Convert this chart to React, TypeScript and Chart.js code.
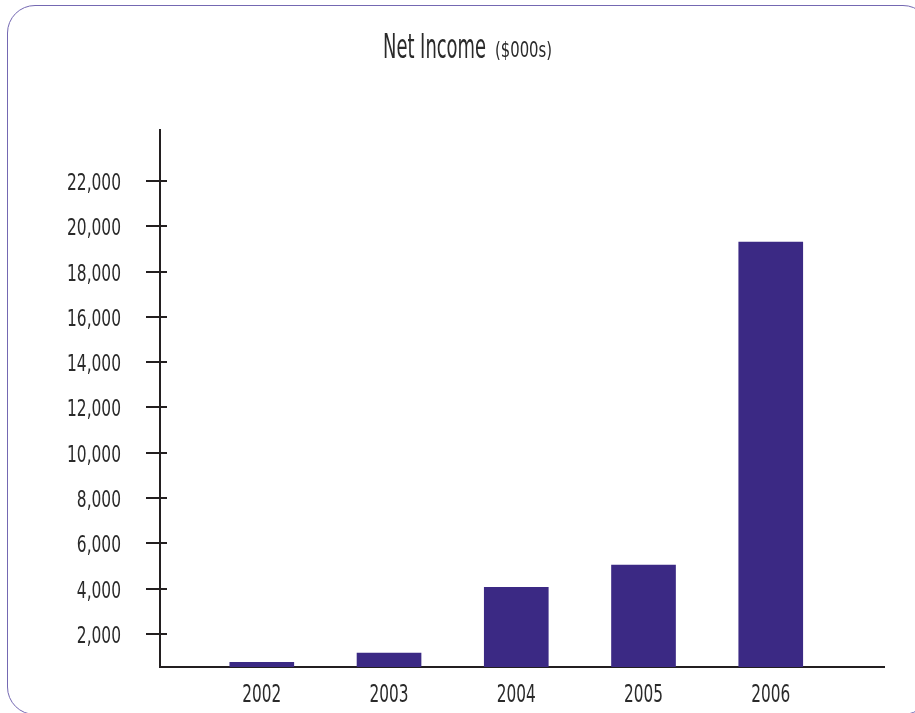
import React, { useEffect, useRef } from "react";
import { Chart, registerables } from "chart.js";

Chart.register(...registerables);

const categories = ["2002", "2003", "2004", "2005", "2006"];
const netIncome = [750, 1150, 4060, 5040, 19300];
const yTickValues = [2000, 4000, 6000, 8000, 10000, 12000, 14000, 16000, 18000, 20000, 22000];
const titleMain = "Net Income";
const titleUnit = "($000s)";

const FONT = '"DejaVu Sans Condensed", "Liberation Sans Narrow", sans-serif';
const INK = "#231f20";
const TEXT = "#2a2a2a";
const BAR = "#3b2984";

function drawScaled(ctx: any, text: string, x: number, y: number, sx: number, align: string) {
  ctx.save();
  ctx.translate(x, y);
  ctx.scale(sx, 1);
  ctx.textAlign = align;
  ctx.fillText(text, 0, 0);
  ctx.restore();
}

export default function App() {
  const ref = useRef<HTMLCanvasElement | null>(null);

  useEffect(() => {
    if (!ref.current) return;

    const crossTicks = {
      id: "crossTicks",
      afterDraw(chart: any) {
        const { ctx, chartArea, scales } = chart;
        const y = scales.y;
        ctx.save();
        ctx.strokeStyle = INK;
        ctx.lineWidth = 2;
        for (const v of yTickValues) {
          const py = Math.round(y.getPixelForValue(v));
          ctx.beginPath();
          ctx.moveTo(chartArea.left - 14, py);
          ctx.lineTo(chartArea.left + 7, py);
          ctx.stroke();
        }
        ctx.restore();
      },
    };

    const condensedLabels = {
      id: "condensedLabels",
      afterDraw(chart: any) {
        const { ctx, chartArea, scales } = chart;
        ctx.save();
        ctx.fillStyle = TEXT;
        // y tick labels
        ctx.font = `23px ${FONT}`;
        ctx.textBaseline = "alphabetic";
        const ySx = 54 / ctx.measureText("22,000").width;
        for (const v of yTickValues) {
          const py = scales.y.getPixelForValue(v);
          drawScaled(ctx, v.toLocaleString("en-US"), chartArea.left - 39, py + 9, ySx, "right");
        }
        // x tick labels
        ctx.font = `25px ${FONT}`;
        const xSx = 39 / ctx.measureText("2002").width;
        categories.forEach((c, i) => {
          const px = scales.x.getPixelForValue(i);
          drawScaled(ctx, c, px, chartArea.bottom + 35, xSx, "center");
        });
        // title
        ctx.font = `33px ${FONT}`;
        const s1 = 103 / ctx.measureText(titleMain).width;
        ctx.font = `21px ${FONT}`;
        const s2 = 57 / ctx.measureText(titleUnit).width;
        const x0 = 383;
        ctx.font = `33px ${FONT}`;
        drawScaled(ctx, titleMain, x0, 58, s1, "left");
        ctx.font = `21px ${FONT}`;
        drawScaled(ctx, titleUnit, 495, 57, s2, "left");
        ctx.restore();
      },
    };

    const chart = new Chart(ref.current, {
      type: "bar",
      data: {
        datasets: [
          {
            data: categories.map((c, i) => ({ x: i, y: netIncome[i] })),
            backgroundColor: BAR,
            borderWidth: 0,
            barThickness: 64,
          },
        ],
      },
      options: {
        responsive: false,
        maintainAspectRatio: false,
        animation: false,
        layout: { padding: { top: 130, right: 31, left: 0, bottom: 0 } },
        plugins: {
          legend: { display: false },
          tooltip: { enabled: false },
          title: { display: false },
        },
        scales: {
          x: {
            type: "linear",
            offset: false,
            min: -0.8,
            max: 4.89,
            grid: { display: false, drawTicks: false, offset: false },
            border: { display: true, color: INK, width: 2 },
            afterBuildTicks: (s: any) => {
              s.ticks = categories.map((_, i) => ({ value: i }));
            },
            afterFit: (s: any) => {
              s.height = 46;
            },
            ticks: { display: false },
          },
          y: {
            type: "linear",
            min: 540,
            max: 24250,
            grid: { display: false, drawTicks: false },
            border: { display: true, color: INK, width: 2 },
            afterBuildTicks: (s: any) => {
              s.ticks = yTickValues.map((v) => ({ value: v }));
            },
            afterFit: (s: any) => {
              s.width = 160;
            },
            ticks: { display: false },
          },
        },
      },
      plugins: [crossTicks, condensedLabels],
    } as any);

    return () => chart.destroy();
  }, []);

  return (
    <div
      style={{
        position: "fixed",
        left: 0,
        top: 0,
        width: 915,
        height: 713,
        background: "#ffffff",
        overflow: "hidden",
      }}
    >
      <div
        style={{
          position: "absolute",
          left: 7,
          top: 5,
          width: 924,
          height: 710,
          border: "1.5px solid #7468b2",
          borderRadius: 28,
          boxSizing: "border-box",
        }}
      />
      <canvas
        ref={ref}
        width={915}
        height={713}
        style={{ position: "absolute", left: 0, top: 0, width: 915, height: 713 }}
      />
    </div>
  );
}
